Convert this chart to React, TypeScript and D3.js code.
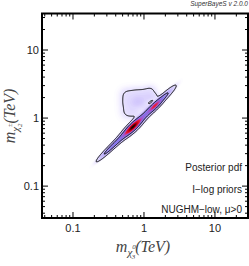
import { useMemo } from 'react';
import * as d3 from 'd3';

const W = 249;
const H = 266;
const frame = { left: 42, right: 248, top: 13.5, bottom: 218 };

// axis ranges in TeV
const xDomain = [0.0366, 29.2];
const yDomain = [0.034, 34.4];
const xTicks = [0.1, 1, 10];
const xTickLabels = ['0.1', '1', '10'];
const yTicks = [0.1, 1, 10];
const yTickLabels = ['0.1', '1', '10'];

const legendLines = ['Posterior pdf', 'I\u2212log priors', 'NUGHM\u2212low, \u03bc>0'];

// posterior, as blobs in log10(TeV)
// ridge along the diagonal, the peak, a second spot, then the cloud above the ridge
const compLogX = [-0.5, -0.37, -0.24, -0.11, 0.02, 0.15, 0.28, -0.155, 0.155,
  -0.25, -0.12, 0.0, 0.1, -0.25, -0.12, 0.0, -0.24, -0.12, -0.08, 0.08, 0.16, 0.03];
const compLogY = [-0.47, -0.34, -0.21, -0.08, 0.05, 0.18, 0.31, -0.13, 0.18,
  0.35, 0.36, 0.36, 0.4, 0.22, 0.22, 0.24, 0.08, 0.08, 0.24, 0.3, 0.32, 0.15];
const compSigA = [0.12, 0.12, 0.12, 0.12, 0.12, 0.12, 0.12, 0.1, 0.08,
  0.07, 0.07, 0.07, 0.06, 0.07, 0.07, 0.07, 0.07, 0.07, 0.06, 0.05, 0.05, 0.05];
const compSigC = [0.018, 0.021, 0.025, 0.027, 0.027, 0.025, 0.022, 0.03, 0.024,
  0.07, 0.07, 0.07, 0.06, 0.07, 0.07, 0.07, 0.07, 0.07, 0.05, 0.04, 0.04, 0.04];
const compAngle = [45, 45, 45, 45, 45, 45, 45, 45, 45,
  0, 0, 0, 0, 0, 0, 0, 0, 0, 0, 0, 0, 0];
const compAmp = [0.25, 0.25, 0.25, 0.25, 0.25, 0.25, 0.25, 0.75, 0.35,
  0.03, 0.03, 0.03, 0.03, 0.03, 0.035, 0.03, 0.03, 0.03, 0.03, 0.025, 0.025, 0.02];

const credible = [0.68, 0.95];

const colorStops = [0, 0.015, 0.06, 0.2, 0.35, 0.5, 0.62, 0.8, 0.93, 1];
const colorRange = ['#ffffff', '#eeeaff', '#d6ccfd', '#ac9cf6', '#8674ea', '#b050c4', '#e8203c', '#cc0018', '#500008', '#000000'];

const GRID_MIN = -1;
const STEP = 0.008;
const N = 251;

function App() {
  const x = d3.scaleLog().domain(xDomain).range([frame.left, frame.right]);
  const y = d3.scaleLog().domain(yDomain).range([frame.bottom, frame.top]);

  const { bands, lines } = useMemo(() => {
    const values = new Float64Array(N * N);
    for (let j = 0; j < N; j++) {
      const ly = GRID_MIN + j * STEP;
      for (let i = 0; i < N; i++) {
        const lx = GRID_MIN + i * STEP;
        let v = 0;
        for (let k = 0; k < compAmp.length; k++) {
          const th = (compAngle[k] * Math.PI) / 180;
          const dx = lx - compLogX[k];
          const dy = ly - compLogY[k];
          const a = dx * Math.cos(th) + dy * Math.sin(th);
          const c = -dx * Math.sin(th) + dy * Math.cos(th);
          v += compAmp[k] * Math.exp(-0.5 * ((a * a) / (compSigA[k] ** 2) + (c * c) / (compSigC[k] ** 2)));
        }
        values[i + j * N] = v;
      }
    }
    const max = d3.max(values) as number;

    // highest posterior density levels
    const sorted = Array.from(values).sort((a, b) => b - a);
    const total = d3.sum(sorted);
    const levels = credible.map((p) => {
      let acc = 0;
      for (const v of sorted) {
        acc += v;
        if (acc >= p * total) return v;
      }
      return 0;
    });

    const path = d3.geoPath(
      d3.geoTransform({
        point(px, py) {
          const lx = GRID_MIN + (px - 0.5) * STEP;
          const ly = GRID_MIN + (py - 0.5) * STEP;
          this.stream.point(x(10 ** lx), y(10 ** ly));
        },
      })
    );

    const color = d3.scaleLinear<string>().domain(colorStops).range(colorRange).interpolate(d3.interpolateRgb);
    const nb = 80;
    const thr = d3.range(1, nb + 1).map((i) => max * Math.pow(i / nb, 1.5) * 0.999);
    const gen = d3.contours().size([N, N]);
    const bands = gen.thresholds(thr)(Array.from(values)).map((c) => ({
      d: path(c) || '',
      fill: color(c.value / max),
    }));
    const lines = levels.map((lv) => path(gen.contour(Array.from(values), lv)) || '');
    return { bands, lines };
  }, []);

  const minor = (dom: number[]) => {
    const out: { v: number; major: boolean }[] = [];
    for (let e = -2; e <= 1; e++) {
      for (let m = 1; m <= 9; m++) {
        const v = m * 10 ** e;
        if (v >= dom[0] && v <= dom[1]) out.push({ v, major: m === 1 });
      }
    }
    return out;
  };

  const tickFont = { fontFamily: 'Liberation Sans, Arial, sans-serif', fontSize: 11, fill: '#222' };

  return (
    <svg width={W} height={H} style={{ position: 'absolute', left: 0, top: 0 }}>
      <rect width={W} height={H} fill="#fff" />
      <g>
        {bands.map((b, i) => (
          <path key={i} d={b.d} fill={b.fill} />
        ))}
      </g>
      <g fill="none" stroke="#000" strokeWidth={1}>
        {lines.map((d, i) => (
          <path key={i} d={d} />
        ))}
      </g>

      <g stroke="#000" strokeWidth={1}>
        {minor(xDomain).map((t, i) => {
          const len = t.major ? 6 : 3;
          const px = x(t.v);
          return (
            <g key={'x' + i}>
              <line x1={px} x2={px} y1={frame.bottom} y2={frame.bottom - len} />
              <line x1={px} x2={px} y1={frame.top} y2={frame.top + len} />
            </g>
          );
        })}
        {minor(yDomain).map((t, i) => {
          const len = t.major ? 6 : 3;
          const py = y(t.v);
          return (
            <g key={'y' + i}>
              <line x1={frame.left} x2={frame.left + len} y1={py} y2={py} />
              <line x1={frame.right} x2={frame.right - len} y1={py} y2={py} />
            </g>
          );
        })}
      </g>
      <rect
        x={frame.left}
        y={frame.top}
        width={frame.right - frame.left}
        height={frame.bottom - frame.top}
        fill="none"
        stroke="#000"
        strokeWidth={2}
      />

      {xTicks.map((t, i) => (
        <text key={'xl' + i} x={x(t)} y={232} textAnchor="middle" {...tickFont}>
          {xTickLabels[i]}
        </text>
      ))}
      {yTicks.map((t, i) => (
        <text key={'yl' + i} x={39} y={y(t) + 4} textAnchor="end" {...tickFont}>
          {yTickLabels[i]}
        </text>
      ))}

      {legendLines.map((s, i) => (
        <text
          key={'lg' + i}
          x={242}
          y={[170.5, 192.5, 213][i]}
          textAnchor="end"
          fontFamily="Liberation Sans, Arial, sans-serif"
          fontSize={10}
          fill="#222"
        >
          {s}
        </text>
      ))}

      <text
        x={248}
        y={6}
        textAnchor="end"
        fontFamily="Liberation Sans, Arial, sans-serif"
        fontStyle="italic"
        fontSize={6.5}
        fill="#333"
      >
        SuperBayeS v 2.0.0
      </text>

      <text
        x={143}
        y={252}
        textAnchor="middle"
        fontFamily="Liberation Serif, serif"
        fontStyle="italic"
        fontSize={16}
        fill="#444"
      >
        m
        <tspan dy={4} fontSize={11}>χ</tspan>
        <tspan dy={-7} fontSize={7}>0</tspan>
        <tspan dx={-4} dy={10} fontSize={7}>3</tspan>
        <tspan dy={-7} fontSize={16}>(TeV)</tspan>
      </text>

      <text
        transform="translate(15,116) rotate(-90)"
        textAnchor="middle"
        fontFamily="Liberation Serif, serif"
        fontStyle="italic"
        fontSize={16}
        fill="#444"
      >
        m
        <tspan dy={4} fontSize={11}>χ</tspan>
        <tspan dy={-7} fontSize={7}>±</tspan>
        <tspan dx={-4} dy={10} fontSize={7}>2</tspan>
        <tspan dy={-7} fontSize={16}>(TeV)</tspan>
      </text>
    </svg>
  );
}

export default App;
